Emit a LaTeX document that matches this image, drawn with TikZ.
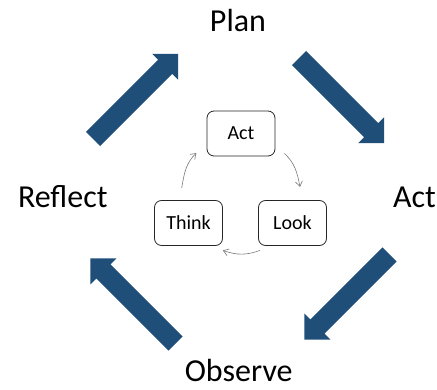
\documentclass[tikz,border=0pt]{standalone}
\usepackage{fontspec}
\setmainfont{Carlito}
\usepackage{xcolor}
\usepackage{tikz}
\usetikzlibrary{positioning,arrows.meta,calc}

\definecolor{cycleblue}{RGB}{31,78,121}
\definecolor{smallgray}{RGB}{120,120,120}

\tikzset{
  stage/.style={anchor=base, font=\fontsize{32}{38}\selectfont},
  stepbox/.style={draw=black!85, line width=0.8pt, rounded corners=7pt,
    minimum width=68pt, minimum height=45pt, font=\fontsize{20}{24}\selectfont},
  cyc/.style={-{Straight Barb[length=5pt,width=7pt]}, smallgray, line width=0.6pt},
  bigarrow/.style={fill=cycleblue, draw=none}
}

\begin{document}
\begin{tikzpicture}[x=1pt, y=1pt]
    \useasboundingbox (0,0) rectangle (437,389);

    % Grote cyclus: labels
    \node[stage] (plan) at (238,357.3) {Plan};
    \node[stage] (reflect) at (62.8,181.7) {Reflect};
    \node[stage] (actbig) at (414.5,181.7) {Act};
    \node[stage] (observe) at (238.7,8) {Observe};

    % Grote cyclus: blokpijlen
    \foreach \tx/\ty/\ang in {93/250/45, 299/331/-45, 389.5/134.5/-135, 175.5/45.5/135}{
      \fill[bigarrow, shift={(\tx,\ty)}, rotate=\ang]
        (0,-10) -- (102,-10) -- (102,-18.4) -- (120.4,0) -- (102,18.4) -- (102,10) -- (0,10) -- cycle;
    }

    % Kleine cyclus: vakjes
    \node[stepbox] (act) at (241,255.5) {Act};
    \node[stepbox] (think) at (188.5,166) {Think};
    \node[stepbox] (look) at (292.5,166) {Look};

    % Kleine cyclus: pijltjes
    \draw[cyc] ([shift={(9,3)}]act.south east) to[out=-43, in=101] ([shift={(7.5,13.2)}]look.north);
    \draw[cyc] ([shift={(2,-4.5)}]look.south west) to[out=-160, in=-20] ([shift={(0,-4.5)}]think.south east);
    \draw[cyc] ([shift={(-6.8,12.2)}]think.north) to[out=80, in=-136] ([shift={(-10.3,3.3)}]act.south west);
\end{tikzpicture}
\end{document}
